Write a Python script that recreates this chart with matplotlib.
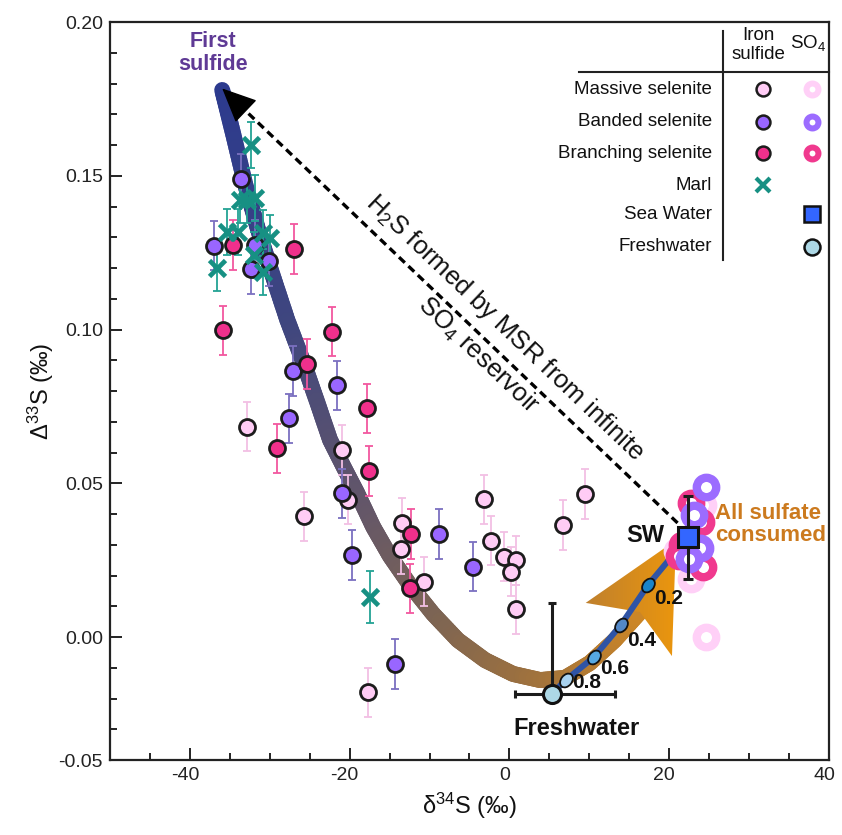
import numpy as np
import matplotlib
matplotlib.use("Agg")
import matplotlib.pyplot as plt
from matplotlib.collections import LineCollection
from matplotlib.colors import LinearSegmentedColormap
from matplotlib.patches import Polygon
from matplotlib.markers import MarkerStyle
from matplotlib.transforms import Affine2D, ScaledTranslation

plt.rcParams['font.family'] = ['Liberation Sans', 'DejaVu Sans']
plt.rcParams['mathtext.fontset'] = 'custom'
plt.rcParams['mathtext.rm'] = 'Liberation Sans'
plt.rcParams['mathtext.it'] = 'Liberation Sans:italic'
plt.rcParams['mathtext.bf'] = 'Liberation Sans:bold'
plt.rcParams['axes.unicode_minus'] = False

# ---------------- iron sulfide data (d34S, D33S, 1 sigma) ----------------
massive_d34 = [-32.85, -20.95, -20.25, -25.65, -13.45, -13.55, -10.75, -3.15,
               -2.25, -0.65, 0.85, 0.25, 0.85, 6.65, 9.45, -17.65]
massive_D33 = [0.0684, 0.0608, 0.0446, 0.0393, 0.0372, 0.0286, 0.0180, 0.0448,
               0.0313, 0.0261, 0.0250, 0.0212, 0.0090, 0.0364, 0.0465, -0.0180]
massive_err = [0.008] * 16

banded_d34 = [-33.55, -36.95, -31.8, -30.05, -32.3, -27.15, -27.55, -21.55,
              -20.95, -19.65, -8.8, -4.55, -14.3]
banded_D33 = [0.1490, 0.1272, 0.1275, 0.1223, 0.1197, 0.0865, 0.0711, 0.0819,
              0.0467, 0.0267, 0.0335, 0.0229, -0.0088]
banded_err = [0.008] * 13

branching_d34 = [-34.55, -26.95, -35.85, -22.15, -25.35, -17.85, -29.15,
                 -17.55, -12.35, -12.45]
branching_D33 = [0.1275, 0.1262, 0.0998, 0.0993, 0.0888, 0.0744, 0.0614, 0.0540,
                 0.0335, 0.0158]
branching_err = [0.008] * 10

marl_d34 = [-32.3, -33.75, -32.85, -31.8, -35.3, -33.95, -30.8, -29.95, -31.95,
            -30.8, -36.65, -17.45]
marl_D33 = [0.1600, 0.1420, 0.1420, 0.1428, 0.1317, 0.1317, 0.1314, 0.1297,
            0.1242, 0.1187, 0.1200, 0.0130]
marl_err = [0.0075] * 11 + [0.0085]

# ---------------- sulfate data ----------------
so4_massive_d34 = [24.25, 20.95, 22.75, 24.65]
so4_massive_D33 = [0.0430, 0.0280, 0.0190, 0.0000]
so4_banded_d34 = [24.65, 23.05, 23.85, 22.45]
so4_banded_D33 = [0.0489, 0.0397, 0.0290, 0.0255]
so4_branching_d34 = [22.75, 23.95, 21.65, 24.25, 21.25]
so4_branching_D33 = [0.0435, 0.0375, 0.0300, 0.0229, 0.0265]

# ---------------- end members ----------------
sw_d34, sw_D33, sw_err = 22.35, 0.0325, 0.0135
fw_d34, fw_D33 = 5.3, -0.0185
fw_xerr = [[4.6], [7.9]]
fw_yerr = [[0.0], [0.0295]]

# mixing line between freshwater and seawater (freshwater fraction)
mix_frac = [1.0, 0.8, 0.6, 0.4, 0.2, 0.0]
mix_d34 = [5.3, 7.05, 10.55, 13.95, 17.35, 22.35]
mix_D33 = [-0.0185, -0.0140, -0.0066, 0.0039, 0.0169, 0.0325]
mix_colors = ['#a8d2f0', '#56a9e2', '#5388c8', '#1a84c8']

# sulfide evolution during closed-system reduction
model_d34 = [-35.95, -34.55, -33.05, -31.45, -29.65, -27.8, -25.8, -24.15,
             -22.45, -20.55, -19.05, -17.05, -14.95, -12.45, -9.55, -6.45,
             -3.05, 0.45, 3.85, 6.95, 10.05, 13.2, 16.35]
model_D33 = [0.1779, 0.1633, 0.1470, 0.1324, 0.1177, 0.1031, 0.0894, 0.0771,
             0.0641, 0.0543, 0.0468, 0.0358, 0.0263, 0.0169, 0.0075, -0.0010,
             -0.0075, -0.0120, -0.0140, -0.0133, -0.0085, -0.0010, 0.0081]
arrowhead_d34 = [20.85, 9.55, 16.35, 20.35]
arrowhead_D33 = [0.0315, 0.0111, 0.0081, -0.0062]

# infinite-reservoir trajectory (start, tip)
msr_d34 = [21.05, -35.95]
msr_D33 = [0.0371, 0.1784]

C_MASSIVE = '#ffccf5'
C_BANDED = '#9966ff'
C_BRANCH = '#f0308c'
C_MARL = '#179083'
EDGE = '#1c1c1c'

fig = plt.figure(figsize=(8.42, 8.35), dpi=100)
ax = fig.add_axes([0.1306, 0.0898, 0.8539, 0.8838])

# ---- model curve with colour gradient ----
cmap = LinearSegmentedColormap.from_list('sulfide', [
    (0.0, '#2c3a8e'), (0.30, '#3f467f'), (0.55, '#655768'),
    (0.70, '#7c6454'), (0.83, '#9b7040'), (1.0, '#cc8626')])
pts = np.column_stack([model_d34, model_D33])
bbox = ax.get_position()
sx = 842 * bbox.width / 90.0
sy = 835 * bbox.height / 0.24
segs, fr = [], []
disp = pts * np.array([sx, sy])
seglen = np.hypot(*np.diff(disp, axis=0).T)
cum = np.concatenate([[0], np.cumsum(seglen)])
total = cum[-1]
for i in range(len(pts) - 1):
    n = 12
    for k in range(n):
        a = pts[i] + (pts[i + 1] - pts[i]) * k / n
        b = pts[i] + (pts[i + 1] - pts[i]) * (k + 1) / n
        segs.append([a, b])
        fr.append((cum[i] + seglen[i] * (k + 0.5) / n) / total)
lc = LineCollection(segs, colors=cmap(np.array(fr)), linewidths=11.5,
                    capstyle='round', zorder=2)
ax.add_collection(lc)

# arrowhead with horizontal gradient
head = Polygon(np.column_stack([arrowhead_d34, arrowhead_D33]), closed=True,
               facecolor='none', edgecolor='none', zorder=2.4)
ax.add_patch(head)
hcmap = LinearSegmentedColormap.from_list('head', ['#bf802e', '#eb960d'])
im = ax.imshow(np.linspace(0, 1, 256).reshape(1, -1), cmap=hcmap,
               extent=[9.45, 20.95, -0.007, 0.032], aspect='auto',
               origin='lower', zorder=2.5, interpolation='bilinear')
im.set_clip_path(head)

# ---- dashed arrow: H2S from an infinite reservoir ----
t_base = 0.955
base = (msr_d34[0] + (msr_d34[1] - msr_d34[0]) * t_base,
        msr_D33[0] + (msr_D33[1] - msr_D33[0]) * t_base)
ax.plot([msr_d34[0], base[0]], [msr_D33[0], base[1]], color='black', lw=2.4,
        ls=(0, (2.4, 1.5)), zorder=2.6)
ax.annotate('', xy=(msr_d34[1], msr_D33[1]), xytext=base,
            arrowprops=dict(arrowstyle='-|>,head_length=1.1,head_width=0.5',
                            lw=1.0, color='black', mutation_scale=20,
                            shrinkA=0, shrinkB=0),
            zorder=2.6)
ax.text(-0.55, 0.1005, r'H$_2$S formed by MSR from infinite', rotation=-43.6,
        rotation_mode='anchor', ha='center', va='center', fontsize=18.5,
        color='#111111', zorder=2.6)
ax.text(-3.95, 0.0917, r'SO$_4$ reservoir', rotation=-43.6,
        rotation_mode='anchor', ha='center', va='center', fontsize=18.5,
        color='#111111', zorder=2.6)

# ---- mixing line ----
ax.plot(mix_d34, mix_D33, color='#2f54a6', lw=4.3, solid_capstyle='round',
        zorder=3)
ell = MarkerStyle('o', transform=Affine2D().scale(0.72, 1.0).rotate_deg(-38))
for x, y, c in zip(mix_d34[1:5], mix_D33[1:5], mix_colors):
    ax.plot(x, y, marker=ell, ms=11, mfc=c, mec='#111111', mew=1.3,
            ls='none', zorder=3.2)
label_off = [(15, -2), (15, -8), (15, -11), (15, -10)]
for x, y, f, off in zip(mix_d34[1:5], mix_D33[1:5], mix_frac[1:5], label_off):
    ax.annotate(f'{f:.1f}', (x, y), xytext=off, textcoords='offset points',
                ha='center', va='center', fontsize=15, fontweight='bold',
                color='#111111', zorder=3.3)

# ---- error bars ----
eb = dict(fmt='none', elinewidth=1.3, capsize=2.8, capthick=1.3, zorder=3.4)
ax.errorbar(massive_d34, massive_D33, yerr=massive_err, ecolor='#f2bfe4', **eb)
ax.errorbar(banded_d34, banded_D33, yerr=banded_err, ecolor='#7b70c0', **eb)
ax.errorbar(branching_d34, branching_D33, yerr=branching_err, ecolor='#f2579f', **eb)
ax.errorbar(marl_d34, marl_D33, yerr=marl_err, ecolor='#23a394', **eb)

# ---- iron sulfide markers ----
mk = dict(ls='none', marker='o', ms=11.5, mec=EDGE, mew=2.0)
ax.plot(massive_d34, massive_D33, mfc=C_MASSIVE, zorder=4.0, **mk)
ax.plot(banded_d34, banded_D33, mfc=C_BANDED, zorder=4.1, **mk)
ax.plot(branching_d34, branching_D33, mfc=C_BRANCH, zorder=4.2, **mk)
ax.plot(marl_d34, marl_D33, ls='none', marker='x', ms=12, mew=3.4,
        color=C_MARL, zorder=4.3)

# ---- sulfate rings ----
rg = dict(ls='none', marker='o', ms=14, mfc='white', mew=6)
ax.plot(so4_massive_d34, so4_massive_D33, mec='#ffd0f7', zorder=4.4, **rg)
ax.plot(so4_branching_d34, so4_branching_D33, mec='#f0398e', zorder=4.5, **rg)
ax.plot(so4_banded_d34, so4_banded_D33, mec='#9c6cff', zorder=4.6, **rg)

# ---- seawater and freshwater ----
ax.errorbar(sw_d34, sw_D33, yerr=sw_err, fmt='none', ecolor='#1c1c1c',
            elinewidth=2.2, capsize=3.8, capthick=2.2, zorder=5)
ax.plot(sw_d34, sw_D33, ls='none', marker='s', ms=14, mfc='#3366ff',
        mec='#111111', mew=2.2, zorder=5.1)
ax.errorbar(fw_d34, fw_D33, xerr=fw_xerr, yerr=fw_yerr, fmt='none',
            ecolor='#1c1c1c', elinewidth=2.2, capsize=3.2, capthick=2.2,
            zorder=5)
ax.plot(fw_d34, fw_D33, ls='none', marker='o', ms=13, mfc='#add8e6',
        mec='#111111', mew=2.2, zorder=5.1)

# ---- annotations ----
ax.text(-37.05, 0.190, 'First\nsulfide', ha='center', va='center',
        fontsize=15.5, fontweight='bold', color='#5f3a95', linespacing=1.15)
ax.text(25.75, 0.0367, 'All sulfate\nconsumed', ha='left', va='center',
        fontsize=16, fontweight='bold', color='#cc7a1e', linespacing=1.05)
ax.text(19.35, 0.0330, 'SW', ha='right', va='center', fontsize=17,
        fontweight='bold', color='#111111')
ax.text(8.35, -0.0297, 'Freshwater', ha='center', va='center', fontsize=17,
        fontweight='bold', color='#111111')

# ---- legend table ----
T = ax.transAxes
ax.plot([0.8526, 0.8526], [0.6775, 0.9878], color='#222222', lw=1.5,
        transform=T, clip_on=False)
ax.plot([0.6523, 1.0], [0.9322, 0.9322], color='#222222', lw=1.5,
        transform=T, clip_on=False)
ax.text(0.9013, 0.9690, 'Iron\nsulfide', transform=T, ha='center',
        va='center', fontsize=13.5, linespacing=1.1, color='#111111')
ax.text(0.9708, 0.9715, r'SO$_4$', transform=T, ha='center', va='center',
        fontsize=13.5, color='#111111')
rows_y = [0.9092, 0.8649, 0.8221, 0.7791, 0.7398, 0.6955]
row_labels = ['Massive selenite', 'Banded selenite', 'Branching selenite',
              'Marl', 'Sea Water', 'Freshwater']
for y, lab in zip(rows_y, row_labels):
    ax.text(0.8373, y, lab, transform=T, ha='right', va='center',
            fontsize=13.5, color='#111111')
xi, xs = 0.9082, 0.9764
for y, c, rc in zip(rows_y[:3], [C_MASSIVE, C_BANDED, C_BRANCH],
                    ['#ffd0f7', '#9c6cff', '#f0398e']):
    ax.plot(xi, y, marker='o', ms=10, mfc=c, mec=EDGE, mew=1.8,
            transform=T, clip_on=False)
    ax.plot(xs, y, marker='o', ms=8.6, mfc='white', mec=rc, mew=4.3,
            transform=T, clip_on=False)
ax.plot(xi, rows_y[3], marker='x', ms=10, mew=3.0, color=C_MARL,
        transform=T, clip_on=False)
ax.plot(xs, rows_y[4], marker='s', ms=11, mfc='#3366ff', mec='#111111',
        mew=1.8, transform=T, clip_on=False)
ax.plot(xs, rows_y[5], marker='o', ms=11.5, mfc='#add8e6', mec='#111111',
        mew=1.8, transform=T, clip_on=False)

# ---- axes ----
ax.set_xlim(-50, 40)
ax.set_ylim(-0.04, 0.20)
ax.set_xticks([-40, -20, 0, 20, 40])
ax.set_xticks(np.arange(-45, 40, 5), minor=True)
ax.set_yticks([-0.04, 0.0, 0.05, 0.10, 0.15, 0.20])
ax.set_yticklabels(['-0.05', '0.00', '0.05', '0.10', '0.15', '0.20'])
ax.set_yticks([v / 100 for v in range(-3, 20) if v % 5 != 0], minor=True)
ax.tick_params(which='both', direction='in', top=False, right=False,
               width=1.4, color='#222222', labelcolor='#222222')
ax.tick_params(which='major', length=8.5, labelsize=14, pad=5)
ax.tick_params(which='minor', length=5)
shift = ScaledTranslation(-0.05, 0, fig.dpi_scale_trans)
for lab in ax.get_xticklabels():
    lab.set_transform(lab.get_transform() + shift)
for sp in ax.spines.values():
    sp.set_linewidth(1.6)
    sp.set_color('#222222')
ax.set_xlabel(r'δ$^{34}$S (‰)', fontsize=17, color='#111111')
ax.set_ylabel(r'Δ$^{33}$S (‰)', fontsize=17, color='#111111')
ax.xaxis.set_label_coords(0.5, -0.042)
ax.yaxis.set_label_coords(-0.075, 0.5)

fig.savefig('out.png', dpi=100)
